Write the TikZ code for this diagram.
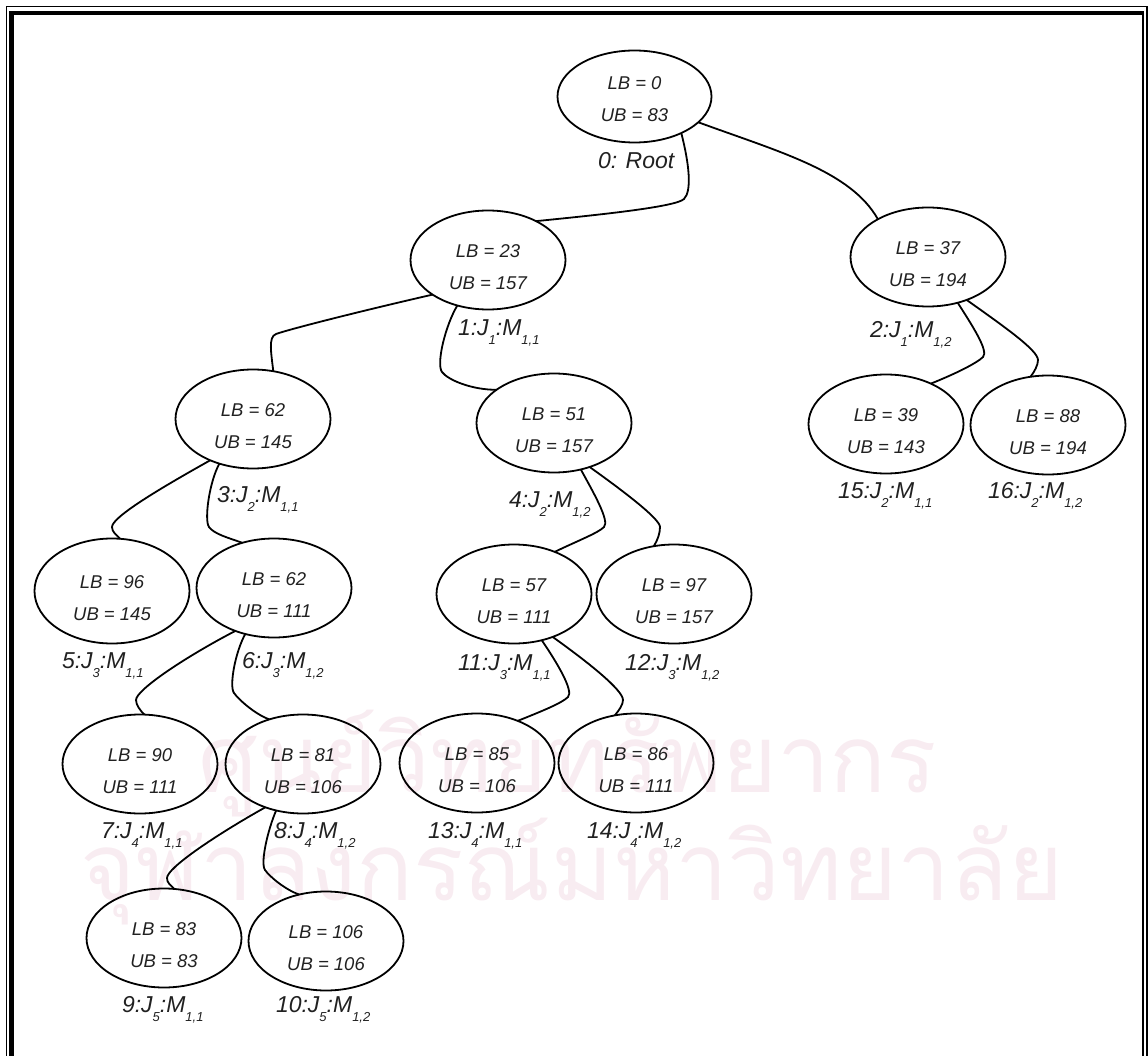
\documentclass[tikz,border=0pt]{standalone}
\usepackage{fontspec}
\setmainfont{Liberation Sans}
\newfontfamily\thaifont[Script=Thai]{Loma}
\usetikzlibrary{shapes.geometric}
\definecolor{ink}{gray}{0.13}
\definecolor{wm}{RGB}{248,236,241}
% two bound lines inside an ellipse
\newcommand\lbub[3][-11.5]{\raisebox{#1pt}[0pt][0pt]{\begin{tabular}{@{}c@{}}LB = #2\\UB = #3\end{tabular}}}
% lowered small subscript used in the node tags
\newcommand\sbs[1]{\raisebox{-9pt}{\fontsize{13}{13}\selectfont #1}}
\begin{document}
\begin{tikzpicture}[x=1pt,y=-1pt,
  every node/.style={inner sep=0pt,outer sep=0pt},
  bb/.style={draw,ellipse,line width=1.8pt,minimum width=155pt,minimum height=99pt,
    font=\fontsize{18.5}{31.5}\selectfont\itshape,text=ink},
  tag/.style={anchor=base west,font=\fontsize{23}{23}\selectfont\itshape,text=ink},
  wmtext/.style={anchor=base,font=\fontsize{94}{94}\selectfont\thaifont,text=wm},
  edge/.style={line width=1.8pt}]
\useasboundingbox (0,0) rectangle (1148,1056);

% background lettering
\node[wmtext] (w1) at (568,792) {ศูนย์วิทยทรัพยากร};
\node[wmtext] (w2) at (572,900) {จุฬาลงกรณ์มหาวิทยาลัย};

% page frame: thin outer rule and thick inner rule
\fill (6,6) rectangle (7.4,1070);
\fill (6,6) rectangle (1148,7.5);
\fill (1145.8,6) rectangle (1147.8,1070);
\fill (9,10.7) rectangle (14,1070);
\fill (9,10.7) rectangle (1144.3,15.5);
\fill (1141.7,10.7) rectangle (1144.3,1070);

% search-tree nodes
\node[bb,minimum width=154pt,minimum height=92pt] (n0) at (634.5,96.5) {\lbub[-7]{0}{83}};
\node[bb] (n1) at (488,260) {\lbub{23}{157}};
\node[bb] (n2) at (928,257) {\lbub{37}{194}};
\node[bb] (n3) at (253,419) {\lbub{62}{145}};
\node[bb] (n4) at (554,423) {\lbub{51}{157}};
\node[bb,minimum height=105pt] (n5) at (112,591) {\lbub{96}{145}};
\node[bb] (n6) at (274,588) {\lbub{62}{111}};
\node[bb] (n7) at (140,764) {\lbub{90}{111}};
\node[bb] (n8) at (303,764) {\lbub{81}{106}};
\node[bb] (n9) at (164,938) {\lbub{83}{83}};
\node[bb] (n10) at (326,941) {\lbub{106}{106}};
\node[bb] (n11) at (514,594) {\lbub{57}{111}};
\node[bb] (n12) at (674,594) {\lbub{97}{157}};
\node[bb] (n13) at (477,763) {\lbub{85}{106}};
\node[bb] (n14) at (636,763) {\lbub{86}{111}};
\node[bb] (n15) at (886,424) {\lbub{39}{143}};
\node[bb] (n16) at (1048,425) {\lbub{88}{194}};

% node tags
\node[tag] (l0) at (598,168.3) {0: Root};
\node[tag] (l1) at (458,335.8) {1:J\sbs{1}:M\sbs{1,1}};
\node[tag] (l2) at (870,337.3) {2:J\sbs{1}:M\sbs{1,2}};
\node[tag] (l3) at (217,502.3) {3:J\sbs{2}:M\sbs{1,1}};
\node[tag] (l4) at (509,507.3) {4:J\sbs{2}:M\sbs{1,2}};
\node[tag] (l5) at (62,668.3) {5:J\sbs{3}:M\sbs{1,1}};
\node[tag] (l6) at (242,668.3) {6:J\sbs{3}:M\sbs{1,2}};
\node[tag] (l7) at (101,838.3) {7:J\sbs{4}:M\sbs{1,1}};
\node[tag] (l8) at (274,838.3) {8:J\sbs{4}:M\sbs{1,2}};
\node[tag] (l9) at (122,1012.3) {9:J\sbs{5}:M\sbs{1,1}};
\node[tag] (l10) at (276,1012.3) {10:J\sbs{5}:M\sbs{1,2}};
\node[tag] (l11) at (458,670.3) {11:J\sbs{3}:M\sbs{1,1}};
\node[tag] (l12) at (625,670.3) {12:J\sbs{3}:M\sbs{1,2}};
\node[tag] (l13) at (428,838.3) {13:J\sbs{4}:M\sbs{1,1}};
\node[tag] (l14) at (587,838.3) {14:J\sbs{4}:M\sbs{1,2}};
\node[tag] (l15) at (838,498.3) {15:J\sbs{2}:M\sbs{1,1}};
\node[tag] (l16) at (988,498.3) {16:J\sbs{2}:M\sbs{1,2}};

% branches
\draw[edge] (n0.-38) .. controls +(8,31) and +(8,-8) .. (684,199)
                     .. controls +(-8,8) and +(60,-6) .. (n1.39);
\draw[edge] (n0.-22) .. controls +(82,30) and +(-27,-48) .. (n2.143);
\draw[edge] (n1.-148) .. controls +(-70,16) and +(14,-5) .. (276,334)
                      .. controls +(-8,3) and +(-2,-18) .. (n3.67);
\draw[edge] (n1.-124) .. controls +(-12,20) and +(-6,-8) .. (442,372)
                      .. controls +(6,8) and +(-25,0) .. (n4.150);
\draw[edge] (n2.-57) .. controls +(14,22) and +(6,-6) .. (983,357)
                     .. controls +(-6,6) and +(25,-10) .. (n15.42);
\draw[edge] (n2.-48) .. controls +(35,25) and +(0,-10) .. (1038,360)
                     .. controls +(0,5) and +(4,-5) .. (n16.110);
\draw[edge] (n3.-136) .. controls +(-50,28) and +(0,-10) .. (112,527)
                      .. controls +(0,5) and +(-4,-4) .. (n5.81);
\draw[edge] (n3.-127) .. controls +(-10,18) and +(-5,-7) .. (209,527)
                      .. controls +(5,7) and +(-14,-5) .. (n6.125);
\draw[edge] (n4.-60) .. controls +(12,22) and +(6,-6) .. (604,527)
                     .. controls +(-6,6) and +(25,-12) .. (n11.46);
\draw[edge] (n4.-51) .. controls +(35,25) and +(0,-8) .. (660,527)
                     .. controls +(0,6) and +(4,-6) .. (n12.113);
\draw[edge] (n6.-132) .. controls +(-50,26) and +(0,-10) .. (136,700)
                      .. controls +(0,5) and +(-4,-4) .. (n7.85);
\draw[edge] (n6.-122) .. controls +(-10,18) and +(-5,-7) .. (234,693)
                      .. controls +(5,7) and +(-14,-5) .. (n8.127);
\draw[edge] (n11.-59) .. controls +(15,22) and +(6,-6) .. (568,697)
                      .. controls +(-6,6) and +(25,-10) .. (n13.46);
\draw[edge] (n11.-48) .. controls +(35,25) and +(0,-10) .. (623,700)
                      .. controls +(0,5) and +(4,-5) .. (n14.114);
\draw[edge] (n8.-131) .. controls +(-50,28) and +(0,-10) .. (167,878)
                      .. controls +(0,5) and +(-4,-4) .. (n9.78);
\draw[edge] (n8.-120) .. controls +(-8,18) and +(-5,-7) .. (265,870)
                      .. controls +(5,7) and +(-14,-5) .. (n10.120);
\end{tikzpicture}
\end{document}
